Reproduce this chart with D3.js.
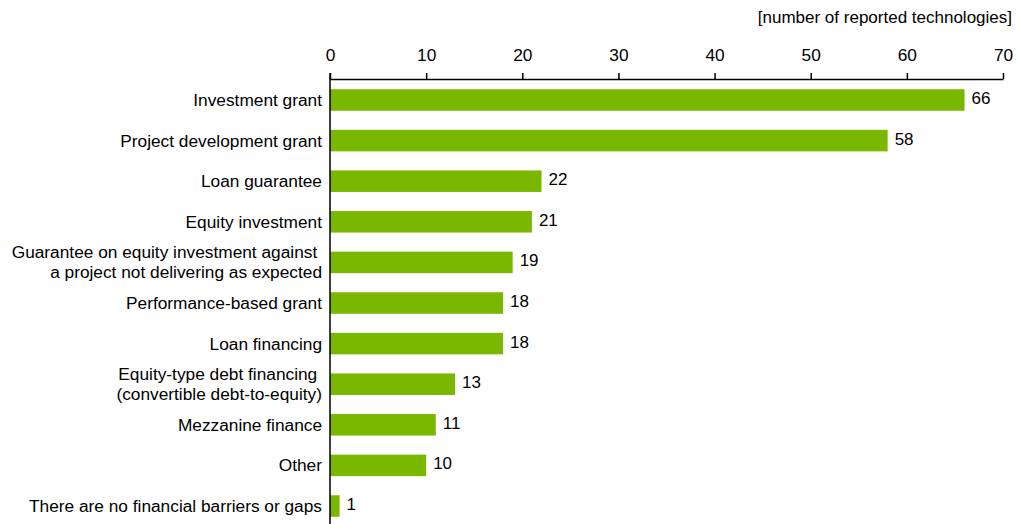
<!DOCTYPE html>
<html lang="en">
<head>
  <meta charset="utf-8">
  <title>Financial barriers - bar chart</title>
  <script src="https://cdn.jsdelivr.net/npm/d3@7"></script>
  <style>
    body { margin: 0; background: #fff; }
    text { font-family: "Liberation Sans", Arial, sans-serif; fill: #000; }
  </style>
</head>
<body>
  <svg class="chart" width="1016" height="524"></svg>
  <script>
    var width = 1016, height = 524;

    // categories (multi-line labels split by "|")
    var categories = [
      "Investment grant",
      "Project development grant",
      "Loan guarantee",
      "Equity investment",
      "Guarantee on equity investment against |a project not delivering as expected",
      "Performance-based grant",
      "Loan financing",
      "Equity-type debt financing |(convertible debt-to-equity)",
      "Mezzanine finance",
      "Other",
      "There are no financial barriers or gaps"
    ];
    var values = [66, 58, 22, 21, 19, 18, 18, 13, 11, 10, 1];
    var ticks = [0, 10, 20, 30, 40, 50, 60, 70];

    var data = categories.map(function(c, i) { return { cat: c, value: values[i] }; });

    var x = d3.scaleLinear()
              .domain([0, 70])
              .range([330, 1003]);

    var y = d3.scaleBand()
              .domain(categories)
              .range([79.7, 79.7 + 11 * 40.6])
              .paddingInner(0.47)
              .paddingOuter(0.235);

    var svg = d3.select("svg.chart");
    var fs = 17.3;

    // bars
    svg.selectAll("rect.bar")
       .data(data)
       .enter().append("rect")
       .attr("class", "bar")
       .attr("x", x(0))
       .attr("y", function(d) { return y(d.cat); })
       .attr("width", function(d) { return x(d.value) - x(0); })
       .attr("height", y.bandwidth())
       .attr("fill", "#7ab800");

    // value labels
    svg.selectAll("text.val")
       .data(data)
       .enter().append("text")
       .attr("class", "val")
       .attr("x", function(d) { return x(d.value) + 7; })
       .attr("y", function(d) { return y(d.cat) + y.bandwidth() / 2 - 2; })
       .attr("dy", "0.35em")
       .attr("font-size", 17)
       .text(function(d) { return d.value; });

    // category labels
    var lab = svg.selectAll("text.cat")
       .data(data)
       .enter().append("text")
       .attr("class", "cat")
       .attr("text-anchor", "end")
       .attr("font-size", fs)
       .style("white-space", "pre")
       .attr("x", 322)
       .attr("y", function(d) { return y(d.cat) + y.bandwidth() / 2; });

    lab.each(function(d) {
      var lines = d.cat.split("|");
      var t = d3.select(this);
      var off = -(lines.length - 1) * 10;
      lines.forEach(function(l, i) {
        t.append("tspan")
         .attr("x", 322)
         .attr("dy", i === 0 ? (off / fs + 0.35) + "em" : (20 / fs) + "em")
         .text(l);
      });
    });

    // top axis
    var axis = d3.axisTop(x)
                 .tickValues(ticks)
                 .tickSize(6)
                 .tickPadding(12)
                 .tickSizeOuter(0);

    var g = svg.append("g")
       .attr("transform", "translate(0,79)")
       .call(axis);

    g.select(".domain").attr("stroke", "#000").attr("stroke-width", 1.5);
    g.selectAll(".tick line").attr("stroke", "#000").attr("stroke-width", 1.5);
    g.selectAll(".tick text")
     .attr("font-size", fs)
     .attr("font-family", "Liberation Sans, Arial, sans-serif")
     .attr("fill", "#000");

    // vertical axis line at 0
    svg.append("line")
       .attr("x1", x(0)).attr("x2", x(0))
       .attr("y1", 73).attr("y2", height)
       .attr("stroke", "#000")
       .attr("stroke-width", 1.5);

    // unit title
    svg.append("text")
       .attr("x", 1012)
       .attr("y", 17)
       .attr("dy", "0.35em")
       .attr("text-anchor", "end")
       .attr("font-size", 17)
       .text("[number of reported technologies]");
  </script>
</body>
</html>
